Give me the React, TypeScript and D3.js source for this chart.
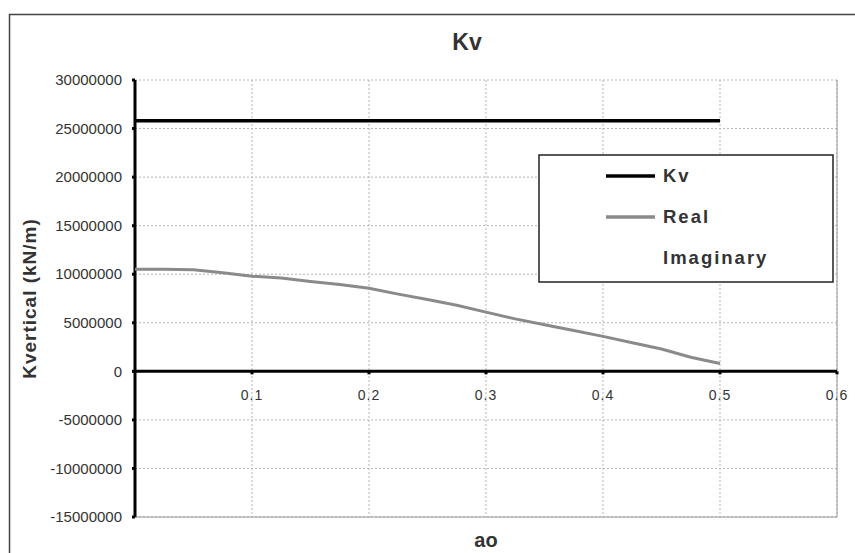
import React from 'react';
import * as d3 from 'd3';

// values
const ao = [0, 0.025, 0.05, 0.075, 0.1, 0.125, 0.15, 0.175, 0.2, 0.225, 0.25,
  0.275, 0.3, 0.325, 0.35, 0.375, 0.4, 0.425, 0.45, 0.475, 0.5];
const kvValues = [25800000, 25800000, 25800000, 25800000, 25800000, 25800000, 25800000,
  25800000, 25800000, 25800000, 25800000, 25800000, 25800000, 25800000, 25800000,
  25800000, 25800000, 25800000, 25800000, 25800000, 25800000];
const realValues = [10500000, 10500000, 10450000, 10150000, 9800000, 9600000, 9250000,
  8950000, 8550000, 7950000, 7400000, 6800000, 6100000, 5400000, 4800000, 4200000,
  3600000, 2950000, 2300000, 1450000, 800000];
const yTicks = [30000000, 25000000, 20000000, 15000000, 10000000, 5000000, 0,
  -5000000, -10000000, -15000000];
const xTicks = [0.1, 0.2, 0.3, 0.4, 0.5, 0.6];
const legendNames = ['Kv', 'Real', 'Imaginary'];

const W = 855, H = 553;
const font = '"Liberation Sans", Arial, sans-serif';
const txt = '#333';

export default function App() {
  const x = d3.scaleLinear().domain([0, 0.6]).range([135, 837]);
  const y = d3.scaleLinear().domain([-15000000, 30000000]).range([517, 80]);

  const line = d3.line<number>()
    .x((d, i) => x(ao[i]))
    .y(d => y(d));

  const legendColors = ['#000', '#8a8a8a', 'none'];

  return (
    <svg width={W} height={H} style={{ position: 'absolute', left: 0, top: 0, background: '#fff' }}
      fontFamily={font}>
      <rect x={0} y={0} width={W} height={H} fill="#fff" />
      {/* chart frame */}
      <rect x={9.5} y={14.5} width={W + 10} height={H + 10} fill="none" stroke="#444" strokeWidth={1.5} />

      <text x={467} y={50} textAnchor="middle" fontSize={23} fontWeight="bold" fill={txt}>Kv</text>

      {/* grid */}
      {yTicks.map(t => (
        <line key={'gy' + t} x1={x(0)} x2={x(0.6)} y1={y(t)} y2={y(t)}
          stroke="#b5b5b5" strokeWidth={1} strokeDasharray="2,2" />
      ))}
      {xTicks.map(t => (
        <line key={'gx' + t} x1={x(t)} x2={x(t)} y1={y(30000000)} y2={y(-15000000)}
          stroke="#b5b5b5" strokeWidth={1} strokeDasharray="2,2" />
      ))}
      <line x1={x(0)} x2={x(0.6)} y1={y(-15000000)} y2={y(-15000000)} stroke="#999" strokeWidth={1} />
      <line x1={x(0.6)} x2={x(0.6)} y1={y(30000000)} y2={y(-15000000)} stroke="#999" strokeWidth={1} />

      {/* axes */}
      <line x1={x(0)} x2={x(0)} y1={y(30000000)} y2={y(-15000000)} stroke="#000" strokeWidth={3} />
      <line x1={x(0)} x2={x(0.6)} y1={y(0)} y2={y(0)} stroke="#000" strokeWidth={3} />
      {yTicks.map(t => (
        <g key={'yt' + t}>
          <line x1={x(0) - 3} x2={x(0)} y1={y(t)} y2={y(t)} stroke="#000" strokeWidth={3} />
          <text x={122} y={y(t)} dy="0.35em" textAnchor="end" fontSize={15} fill={txt}>{t}</text>
        </g>
      ))}
      {xTicks.map(t => (
        <g key={'xt' + t}>
          <line x1={x(t)} x2={x(t)} y1={y(0)} y2={y(0) + 3} stroke="#000" strokeWidth={3} />
          <text x={x(t)} y={y(0) + 24} dy="0.35em" textAnchor="middle" fontSize={14}
            letterSpacing={1} fill={txt}>{t}</text>
        </g>
      ))}

      {/* series */}
      <path d={line(kvValues) || ''} fill="none" stroke="#000" strokeWidth={3.5} />
      <path d={line(realValues) || ''} fill="none" stroke="#8a8a8a" strokeWidth={3} />

      {/* axis titles */}
      <text transform={`translate(36,${(y(30000000) + y(-15000000)) / 2}) rotate(-90)`}
        textAnchor="middle" fontSize={19} fontWeight="bold" letterSpacing={1} fill={txt}>
        Kvertical (kN/m)
      </text>
      <text x={(x(0) + x(0.6)) / 2} y={547} textAnchor="middle" fontSize={20}
        fontWeight="bold" fill={txt}>ao</text>

      {/* legend */}
      <rect x={539} y={155} width={294} height={127} fill="#fff" stroke="#222" strokeWidth={1.5} />
      {legendNames.map((n, i) => (
        <g key={n} transform={`translate(0,${176 + i * 41})`}>
          {legendColors[i] !== 'none' &&
            <line x1={606} x2={655} y1={0} y2={0} stroke={legendColors[i]} strokeWidth={3.5} />}
          <text x={663} y={0} dy="0.35em" fontSize={18.5} fontWeight="bold" letterSpacing={2}
            fill={txt}>{n}</text>
        </g>
      ))}
    </svg>
  );
}
